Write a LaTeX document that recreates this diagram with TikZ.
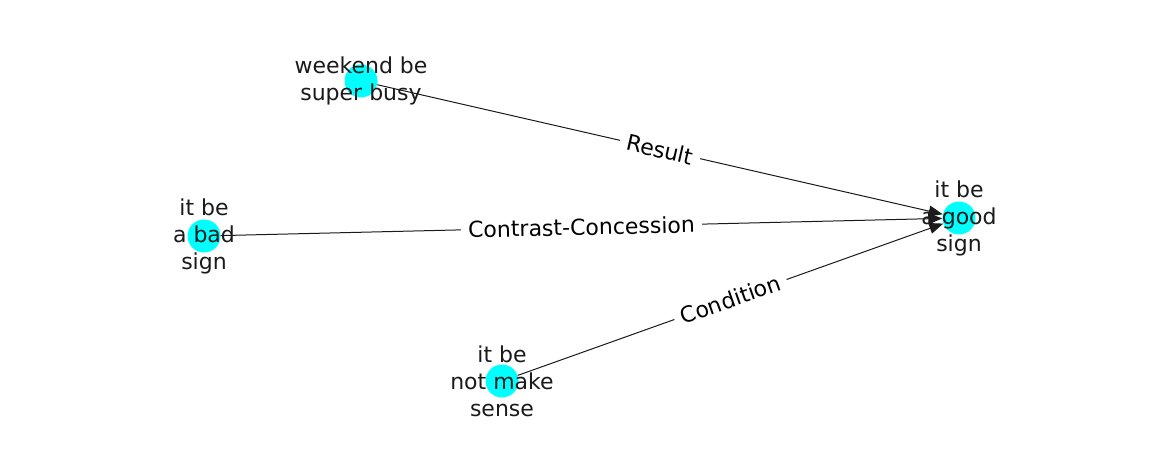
\documentclass[tikz,border=0pt]{standalone}
\usepackage{fontspec}
\setmainfont{DejaVu Sans}
\usetikzlibrary{arrows.meta}
\definecolor{nodecyan}{RGB}{0,255,255}
\definecolor{inkgrey}{RGB}{26,26,26}
\begin{document}
\begin{tikzpicture}[x=1pt,y=-1pt,
  vtx/.style={circle,fill=nodecyan,minimum size=33pt,inner sep=0pt},
  vlabel/.style={align=center,font=\fontsize{22}{27}\selectfont,text=inkgrey,inner sep=0pt},
  edge/.style={draw=inkgrey,line width=1pt,-{Triangle[length=14pt,width=11pt]}},
  elabel/.style={fill=white,inner xsep=7pt,inner ysep=2pt,font=\fontsize{22}{27}\selectfont,sloped,midway}]
\useasboundingbox (0,0) rectangle (1162,462);
\node[vtx] (wk) at (361,81) {};
\node[vtx] (bad) at (204,236) {};
\node[vtx] (good) at (959,218) {};
\node[vtx] (nm) at (502,381) {};
\draw[edge] (wk) -- node[elabel] {Result} (good);
\draw[edge] (bad) -- node[elabel] {Contrast-Concession} (good);
\draw[edge] (nm) -- node[elabel] {Condition} (good);
\node[vlabel] (wkl) at (wk) {weekend be\\super busy};
\node[vlabel] (badl) at (bad) {it be\\a bad\\sign};
\node[vlabel] (goodl) at (good) {it be\\a good\\sign};
\node[vlabel] (nml) at (nm) {it be\\not make\\sense};
\end{tikzpicture}
\end{document}
